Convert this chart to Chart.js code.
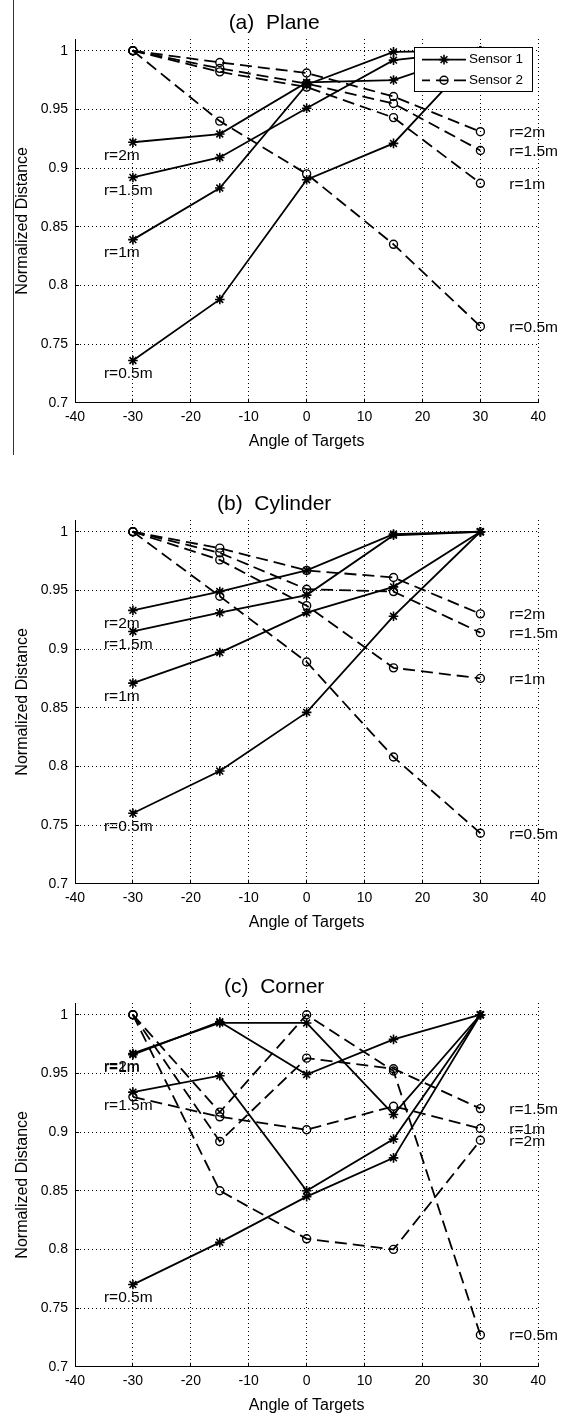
<!DOCTYPE html>
<html>
<head>
<meta charset="utf-8">
<script src="https://cdn.jsdelivr.net/npm/chart.js@4.4.0/dist/chart.umd.min.js"></script>
<style>
html,body{margin:0;padding:0;background:#fff;overflow:hidden;width:573px;height:1417px;position:relative;}
.panel{position:absolute;left:0;width:573px;height:482px;}
canvas{display:block;}
</style>
</head>
<body>
<div class="panel" style="top:0px"><canvas id="c0" width="573" height="482"></canvas></div>
<div class="panel" style="top:481px"><canvas id="c1" width="573" height="482"></canvas></div>
<div class="panel" style="top:964px"><canvas id="c2" width="573" height="482"></canvas></div>
<script>
// ---------------- data ----------------
const angles = [-30, -15, 0, 15, 30];
const rLabels = ['r=0.5m', 'r=1m', 'r=1.5m', 'r=2m'];
const seriesNames = ['Sensor 1', 'Sensor 2'];
const panelTitles = ['(a)  Plane', '(b)  Cylinder', '(c)  Corner'];
const xTicks = [-40, -30, -20, -10, 0, 10, 20, 30, 40];
const yTicks = [0.7, 0.75, 0.8, 0.85, 0.9, 0.95, 1];
const xLabel = 'Angle of Targets';
const yLabel = 'Normalized Distance';

// (a) Plane
const planeS1R05 = [0.736, 0.788, 0.890, 0.921, 1.000];
const planeS1R1  = [0.839, 0.883, 0.971, 0.999, 1.000];
const planeS1R15 = [0.892, 0.909, 0.951, 0.992, 1.000];
const planeS1R2  = [0.922, 0.929, 0.973, 0.975, 1.000];
const planeS2R05 = [1.000, 0.940, 0.895, 0.835, 0.765];
const planeS2R1  = [1.000, 0.982, 0.969, 0.943, 0.887];
const planeS2R15 = [1.000, 0.985, 0.972, 0.955, 0.915];
const planeS2R2  = [1.000, 0.990, 0.981, 0.961, 0.931];

// (b) Cylinder
const cylS1R05 = [0.760, 0.796, 0.846, 0.928, 1.000];
const cylS1R1  = [0.871, 0.897, 0.931, 0.953, 1.000];
const cylS1R15 = [0.915, 0.931, 0.946, 0.997, 1.000];
const cylS1R2  = [0.933, 0.949, 0.967, 0.998, 1.000];
const cylS2R05 = [1.000, 0.945, 0.889, 0.808, 0.743];
const cylS2R1  = [1.000, 0.976, 0.937, 0.884, 0.875];
const cylS2R15 = [1.000, 0.982, 0.951, 0.949, 0.914];
const cylS2R2  = [1.000, 0.986, 0.967, 0.961, 0.930];

// (c) Corner
const cornS1R05 = [0.770, 0.806, 0.845, 0.878, 1.000];
const cornS1R1  = [0.966, 0.994, 0.949, 0.979, 1.000];
const cornS1R15 = [0.934, 0.948, 0.850, 0.894, 1.000];
const cornS1R2  = [0.967, 0.993, 0.993, 0.915, 1.000];
const cornS2R05 = [1.000, 0.917, 1.000, 0.952, 0.727];
const cornS2R1  = [0.930, 0.913, 0.902, 0.922, 0.903];
const cornS2R15 = [1.000, 0.892, 0.963, 0.954, 0.920];
const cornS2R2  = [1.000, 0.850, 0.809, 0.800, 0.893];

// ---------------- styling / construction ----------------
const FONT = "'Liberation Sans', Arial, Helvetica, sans-serif";
const S1_STYLE = {borderColor:'#000', borderWidth:1.8, pointStyle:'star', pointRadius:4.8,
  pointBorderWidth:1.6, pointBorderColor:'#000', pointBackgroundColor:'#000'};
const S2_STYLE = {borderColor:'#000', borderWidth:1.8, borderDash:[12,6], pointStyle:'circle', pointRadius:4,
  pointBorderWidth:1.4, pointBorderColor:'#000', pointBackgroundColor:'rgba(0,0,0,0)'};

function makeDatasets(s1, s2) {
  const ds = [];
  s1.forEach((vals, i) => ds.push(Object.assign({
    label: seriesNames[0], rLabel: rLabels[i], sensor: 0,
    data: vals.map((v, j) => ({x: angles[j], y: v})), fill:false, tension:0
  }, S1_STYLE)));
  s2.forEach((vals, i) => ds.push(Object.assign({
    label: seriesNames[1], rLabel: rLabels[i], sensor: 1,
    data: vals.map((v, j) => ({x: angles[j], y: v})), fill:false, tension:0
  }, S2_STYLE)));
  return ds;
}

const rLabelPlugin = {
  id: 'rLabels',
  afterDatasetsDraw(chart) {
    const {ctx, scales: {x, y}} = chart;
    ctx.save();
    ctx.font = '15.5px ' + FONT;
    ctx.fillStyle = '#000';
    ctx.textAlign = 'left';
    ctx.textBaseline = 'middle';
    chart.data.datasets.forEach(ds => {
      if (ds.sensor === 0) {
        const p = ds.data[0];
        ctx.fillText(ds.rLabel, x.getPixelForValue(-35), y.getPixelForValue(p.y) + 13.5);
      } else {
        const p = ds.data[ds.data.length - 1];
        ctx.fillText(ds.rLabel, x.getPixelForValue(35), y.getPixelForValue(p.y) + 1);
      }
    });
    ctx.restore();
  }
};

const boxLegendPlugin = {
  id: 'boxLegend',
  afterDatasetsDraw(chart, args, opts) {
    if (!opts || !opts.show) return;
    const {ctx, chartArea: a} = chart;
    const w = 118, h = 44;
    const left = Math.round(a.right - 6 - w), top = Math.round(a.top + 8);
    ctx.save();
    ctx.fillStyle = '#fff';
    ctx.fillRect(left, top, w, h);
    ctx.strokeStyle = '#000';
    ctx.lineWidth = 1;
    ctx.strokeRect(left + 0.5, top + 0.5, w, h);
    const rows = [top + 12.6, top + 33.3];
    const styles = [S1_STYLE, S2_STYLE];
    rows.forEach((ry, i) => {
      const st = styles[i];
      ctx.save();
      ctx.strokeStyle = '#000';
      ctx.lineWidth = st.borderWidth;
      ctx.setLineDash(st.borderDash || []);
      if (st.borderDash) ctx.lineDashOffset = 4;
      ctx.beginPath();
      ctx.moveTo(left + 8, ry);
      ctx.lineTo(left + 52, ry);
      ctx.stroke();
      ctx.restore();
      ctx.save();
      ctx.strokeStyle = '#000';
      ctx.fillStyle = st.pointBackgroundColor;
      ctx.lineWidth = st.pointBorderWidth;
      Chart.helpers.drawPoint(ctx, {pointStyle: st.pointStyle, radius: st.pointRadius, borderWidth: st.pointBorderWidth, rotation: 0}, left + 30, ry);
      ctx.restore();
      ctx.fillStyle = '#000';
      ctx.font = '13.5px ' + FONT;
      ctx.textAlign = 'left';
      ctx.textBaseline = 'middle';
      ctx.fillText(seriesNames[i], left + 55, ry);
    });
    ctx.restore();
  }
};

const edgeLinePlugin = {
  id: 'edgeLine',
  afterDraw(chart, args, opts) {
    if (!opts || !opts.show) return;
    const ctx = chart.ctx;
    ctx.save();
    ctx.strokeStyle = '#333';
    ctx.lineWidth = 1;
    ctx.beginPath();
    ctx.moveTo(13.5, 0);
    ctx.lineTo(13.5, 455);
    ctx.stroke();
    ctx.restore();
  }
};

function makeChart(id, title, s1, s2, showLegend, showEdge) {
  return new Chart(document.getElementById(id), {
    type: 'line',
    data: {datasets: makeDatasets(s1, s2)},
    options: {
      responsive: false,
      animation: false,
      events: [],
      layout: {padding: {left: 10, right: 34.7, top: 0, bottom: 0}},
      plugins: {
        legend: {display: false},
        tooltip: {enabled: false},
        title: {display: true, text: title, color: '#000',
          font: {family: FONT, size: 21, weight: 'normal', lineHeight: 1.2},
          padding: {top: 11, bottom: 2.8}},
        boxLegend: {show: showLegend},
        edgeLine: {show: showEdge}
      },
      scales: {
        x: {
          type: 'linear', min: -40, max: 40,
          afterBuildTicks: ax => { ax.ticks = xTicks.map(v => ({value: v})); },
          afterFit: ax => { ax.height = 79.3; },
          grid: {color: '#000', lineWidth: 1, drawTicks: true, tickLength: -4, tickColor: '#000', tickWidth: 1},
          border: {display: true, color: '#000', width: 1, dash: [1, 3]},
          ticks: {color: '#000', font: {family: FONT, size: 14}, padding: 10.5, maxRotation: 0, autoSkip: false,
            callback: v => String(v)},
          title: {display: true, text: xLabel, color: '#000', font: {family: FONT, size: 16, lineHeight: 1.2},
            padding: {top: 0, bottom: 30.5}}
        },
        y: {
          type: 'linear', min: 0.7, max: 1.01,
          afterBuildTicks: ax => { ax.ticks = yTicks.map(v => ({value: v})); },
          afterFit: ax => { ax.width = 65; },
          grid: {color: '#000', lineWidth: 1, drawTicks: true, tickLength: -4, tickColor: '#000', tickWidth: 1},
          border: {display: true, color: '#000', width: 1, dash: [1, 3]},
          ticks: {color: '#000', font: {family: FONT, size: 14}, padding: 11, autoSkip: false,
            callback: v => String(+(+v).toFixed(2))},
          title: {display: true, text: yLabel, color: '#000', font: {family: FONT, size: 16, lineHeight: 1.2},
            padding: {top: 2.5, bottom: 0}}
        }
      }
    },
    plugins: [rLabelPlugin, boxLegendPlugin, edgeLinePlugin]
  });
}

makeChart('c0', panelTitles[0], [planeS1R05, planeS1R1, planeS1R15, planeS1R2], [planeS2R05, planeS2R1, planeS2R15, planeS2R2], true, true);
makeChart('c1', panelTitles[1], [cylS1R05, cylS1R1, cylS1R15, cylS1R2], [cylS2R05, cylS2R1, cylS2R15, cylS2R2], false, false);
makeChart('c2', panelTitles[2], [cornS1R05, cornS1R1, cornS1R15, cornS1R2], [cornS2R05, cornS2R1, cornS2R15, cornS2R2], false, false);
</script>
</body>
</html>
